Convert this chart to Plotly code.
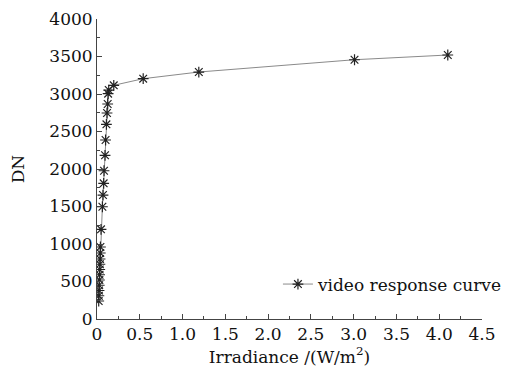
import plotly.graph_objects as go

irradiance = [0.020, 0.022, 0.024, 0.026, 0.028, 0.030, 0.032, 0.034, 0.036, 0.038, 0.040,
              0.047, 0.063, 0.070, 0.078, 0.082, 0.094, 0.100, 0.110, 0.117, 0.125, 0.130,
              0.137, 0.196, 0.54, 1.19, 3.01, 4.10]
dn = [240, 310, 380, 450, 520, 590, 660, 730, 800, 880, 960,
      1196, 1497, 1653, 1809, 1977, 2183, 2387, 2596, 2747, 2867, 3004,
      3053, 3116, 3204, 3293, 3457, 3520]

x_tick_vals = [0, 0.5, 1.0, 1.5, 2.0, 2.5, 3.0, 3.5, 4.0, 4.5]
x_tick_text = ["0", "0.5", "1.0", "1.5", "2.0", "2.5", "3.0", "3.5", "4.0", "4.5"]
y_tick_vals = [0, 500, 1000, 1500, 2000, 2500, 3000, 3500, 4000]

FONT = "DejaVu Serif"

fig = go.Figure()
fig.add_trace(go.Scatter(
    x=irradiance, y=dn, mode="lines+markers", name="video response curve",
    line=dict(color="#8a8a8a", width=1),
    marker=dict(symbol="asterisk-open", size=9, color="#222222",
                line=dict(color="#222222", width=1.2)),
))

axis_common = dict(
    showgrid=False, zeroline=False, showline=True, linecolor="#444444", linewidth=1,
    ticks="inside", ticklen=5, tickcolor="#444444",
    tickfont=dict(family=FONT, size=17, color="#111111"),
    mirror=False, automargin=False,
)

fig.update_xaxes(
    range=[0, 4.5], tickvals=x_tick_vals, ticktext=x_tick_text,
    minor=dict(ticks="inside", ticklen=3, dtick=0.25, tick0=0, tickcolor="#444444"),
    title=dict(text="Irradiance /(W/m<sup>2</sup>)", font=dict(family=FONT, size=17, color="#111111"),
               standoff=4),
    **axis_common,
)
fig.update_yaxes(
    range=[0, 4000], tickvals=y_tick_vals,
    minor=dict(ticks="inside", ticklen=3, dtick=250, tick0=0, tickcolor="#444444"),
    title=dict(text="DN", font=dict(family=FONT, size=17, color="#111111"), standoff=20),
    **axis_common,
)

fig.update_layout(
    width=522, height=374,
    margin=dict(l=97, r=40, t=19, b=55),
    plot_bgcolor="white", paper_bgcolor="white",
    showlegend=True,
    legend=dict(x=0.47, y=0.115, xanchor="left", yanchor="middle",
                font=dict(family=FONT, size=17, color="#111111"),
                bgcolor="rgba(0,0,0,0)", itemwidth=30, borderwidth=0),
)

# remove the default 8px page margin so the figure sits at the window origin
fig.write_html("out.html", config={"displayModeBar": False},
               post_script="document.body.style.margin='0';")
